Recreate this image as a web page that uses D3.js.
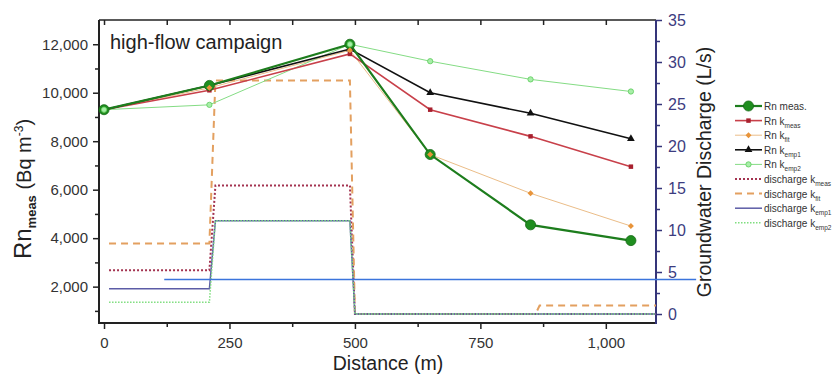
<!doctype html>
<html lang="en">
<head>
  <meta charset="utf-8">
  <title>high-flow campaign</title>
  <style>
    body { margin: 0; background: #fff; }
    svg text { font-family: "Liberation Sans", Arial, sans-serif; }
  </style>
</head>
<body>
<div id="chartDiv"></div>
<script src="https://d3js.org/d3.v7.min.js"></script>
<script>
// sampling points along the stream (m)
var distance = [0, 210, 490, 650, 850, 1050];
var rnMeas  = [9300, 10300, 12000, 7450, 4550, 3900];
var rnKmeas = [9300, 10100, 11600, 9300, 8200, 6950];
var rnKfit  = [9300, 10200, 11750, 7450, 5850, 4500];
var rnKemp1 = [9300, 10300, 11800, 10000, 9150, 8100];
var rnKemp2 = [9300, 9500, 12000, 11300, 10550, 10050];

// groundwater discharge steps (L/s)
var stepDistance   = [10, 210, 222, 490, 500, 860, 868, 1100];
var dischargeKmeas = [5.2, 5.2, 15.3, 15.3, 0, 0, 0, 0];
var dischargeKfit  = [8.4, 8.4, 27.8, 27.8, 0, 0, 1.0, 1.0];
var dischargeKemp1 = [3.0, 3.0, 11.1, 11.1, 0, 0, 0, 0];
var dischargeKemp2 = [1.4, 1.4, 11.1, 11.1, 0, 0, 0, 0];

var thresholdDistance = [120, 1180];
var thresholdValue = 4.1;

var xTicks = [0, 250, 500, 750, 1000];
var xMinor = [125, 375, 625, 875];
var leftTicks = [2000, 4000, 6000, 8000, 10000, 12000];
var leftMinor = [1000, 3000, 5000, 7000, 9000, 11000];
var rightTicks = [0, 5, 10, 15, 20, 25, 30, 35];
var rightMinor = [2.5, 7.5, 12.5, 17.5, 22.5, 27.5, 32.5];

var navy = "#35357a";

var svg = d3.select('#chartDiv')
  .append("svg")
  .attr("width", 835)
  .attr("height", 374);

var x = d3.scaleLinear().domain([-10, 1100]).range([99, 656]);
var yLeft = d3.scaleLinear().domain([500, 13000]).range([323, 20]);
var yRight = d3.scaleLinear().domain([-1.07, 35]).range([323, 20]);

function cleanAxis(g, color) {
  g.select(".domain").remove();
  g.selectAll("line").attr("stroke", color).attr("stroke-width", 1.5);
  g.selectAll("text").attr("fill", color);
}

// bottom axis
svg.append("g").attr("transform", "translate(0,323)")
  .call(d3.axisBottom(x).tickValues(xMinor).tickSize(4).tickFormat(""))
  .call(function(g) { cleanAxis(g, "#222"); });
svg.append("g").attr("transform", "translate(0,323)")
  .call(d3.axisBottom(x).tickValues(xTicks).tickSize(6).tickPadding(8).tickFormat(d3.format(",")))
  .call(function(g) { cleanAxis(g, "#222"); g.selectAll("text").attr("font-size", 15).attr("fill", "#333"); });

// top ticks
svg.append("g").attr("transform", "translate(0,20)")
  .call(d3.axisBottom(x).tickValues(xTicks.concat(xMinor)).tickSize(5).tickFormat(""))
  .call(function(g) { cleanAxis(g, "#222"); });

// left axis
svg.append("g").attr("transform", "translate(99,0)")
  .call(d3.axisLeft(yLeft).tickValues(leftMinor).tickSize(4).tickFormat(""))
  .call(function(g) { cleanAxis(g, "#222"); });
svg.append("g").attr("transform", "translate(99,0)")
  .call(d3.axisLeft(yLeft).tickValues(leftTicks).tickSize(6).tickPadding(5).tickFormat(d3.format(",")))
  .call(function(g) { cleanAxis(g, "#222"); g.selectAll("text").attr("font-size", 15).attr("fill", "#333"); });

// right axis
svg.append("g").attr("transform", "translate(656,0)")
  .call(d3.axisRight(yRight).tickValues(rightMinor).tickSize(4).tickFormat(""))
  .call(function(g) { cleanAxis(g, navy); });
svg.append("g").attr("transform", "translate(656,0)")
  .call(d3.axisRight(yRight).tickValues(rightTicks).tickSize(6).tickPadding(6))
  .call(function(g) { cleanAxis(g, navy); g.selectAll("text").attr("font-size", 16).attr("fill", "#3c3c80"); });

// frame
svg.append("line").attr("x1", 99).attr("x2", 656).attr("y1", 20).attr("y2", 20).attr("stroke", "#222").attr("stroke-width", 1.5);
svg.append("line").attr("x1", 99).attr("x2", 656).attr("y1", 323).attr("y2", 323).attr("stroke", "#222").attr("stroke-width", 2);
svg.append("line").attr("x1", 99).attr("x2", 99).attr("y1", 20).attr("y2", 324).attr("stroke", "#222").attr("stroke-width", 2);
svg.append("line").attr("x1", 656).attr("x2", 656).attr("y1", 20).attr("y2", 324).attr("stroke", navy).attr("stroke-width", 2);

// discharge lines
var dischargeSeries = [
  {sub: "meas", values: dischargeKmeas, color: "#a33350", width: 2, dash: "2,2"},
  {sub: "fit", values: dischargeKfit, color: "#e3a060", width: 2, dash: "7,5"},
  {sub: "emp1", values: dischargeKemp1, color: "#5c5ca6", width: 1.5, dash: null},
  {sub: "emp2", values: dischargeKemp2, color: "#7fde7f", width: 1.5, dash: "1.5,1.5"}
];

var stepLine = d3.line()
  .x(function(d, i) { return x(stepDistance[i]); })
  .y(function(d) { return yRight(d); });

dischargeSeries.forEach(function(s) {
  svg.append("path")
    .attr("d", stepLine(s.values))
    .attr("fill", "none")
    .attr("stroke", s.color)
    .attr("stroke-width", s.width)
    .attr("stroke-dasharray", s.dash);
});

svg.append("line")
  .attr("x1", x(thresholdDistance[0])).attr("x2", x(thresholdDistance[1]))
  .attr("y1", yRight(thresholdValue)).attr("y2", yRight(thresholdValue))
  .attr("stroke", "#3b74dc").attr("stroke-width", 1.5);

// radon series (diamond = square turned 45 deg)
var rnSeries = [
  {label: "Rn meas.", sub: "", values: rnMeas, color: "#1d7d1d", width: 2.2, symbol: d3.symbolCircle, size: 80, rot: 0, fill: "#1f8e1f", stroke: "#176a17"},
  {label: "Rn k", sub: "meas", values: rnKmeas, color: "#c8404a", width: 1.6, symbol: d3.symbolSquare, size: 20, rot: 0, fill: "#a8202e", stroke: "none"},
  {label: "Rn k", sub: "fit", values: rnKfit, color: "#ebbd88", width: 1, symbol: d3.symbolSquare, size: 18, rot: 45, fill: "#e8943a", stroke: "none"},
  {label: "Rn k", sub: "emp1", values: rnKemp1, color: "#111", width: 1.6, symbol: d3.symbolTriangle, size: 26, rot: 0, fill: "#111", stroke: "none"},
  {label: "Rn k", sub: "emp2", values: rnKemp2, color: "#84dc84", width: 1, symbol: d3.symbolCircle, size: 22, rot: 0, fill: "#a8eea8", stroke: "#5ccc5c"}
];

var rnLine = d3.line()
  .x(function(d, i) { return x(distance[i]); })
  .y(function(d) { return yLeft(d); });

var lineOrder = [2, 4, 1, 3, 0];
lineOrder.forEach(function(k) {
  var s = rnSeries[k];
  svg.append("path")
    .attr("d", rnLine(s.values))
    .attr("fill", "none")
    .attr("stroke", s.color)
    .attr("stroke-width", s.width);
});

var markerOrder = [1, 3, 0, 2, 4];
markerOrder.forEach(function(k) {
  var s = rnSeries[k];
  svg.append("g").selectAll("path")
    .data(s.values)
    .enter().append("path")
    .attr("d", d3.symbol().type(s.symbol).size(s.size))
    .attr("fill", s.fill)
    .attr("stroke", s.stroke)
    .attr("stroke-width", 0.8)
    .attr("transform", function(d, i) { return "translate(" + x(distance[i]) + "," + yLeft(d) + ") rotate(" + s.rot + ")"; });
});

// titles
svg.append("text").attr("x", 110).attr("y", 49).attr("font-size", 20).attr("fill", "#222").text("high-flow campaign");

svg.append("text").attr("x", 388).attr("y", 370).attr("text-anchor", "middle")
  .attr("font-size", 19.5).attr("fill", "#222").text("Distance (m)");

var leftTitle = svg.append("text")
  .attr("transform", "translate(31,189) rotate(-90)")
  .attr("text-anchor", "middle")
  .attr("fill", "#222");
leftTitle.append("tspan").attr("font-size", 24).text("Rn");
leftTitle.append("tspan").attr("font-size", 13).attr("font-weight", "bold").attr("dy", 5).text("meas");
leftTitle.append("tspan").attr("font-size", 20).attr("dy", -5).text(" (Bq m");
leftTitle.append("tspan").attr("font-size", 12).attr("dy", -8).text("-3");
leftTitle.append("tspan").attr("font-size", 20).attr("dy", 8).text(")");

svg.append("text")
  .attr("transform", "translate(711,172) rotate(-90)")
  .attr("text-anchor", "middle")
  .attr("font-size", 19.5)
  .attr("fill", "#222")
  .text("Groundwater Discharge (L/s)");

// legend
var legend = svg.append("g").attr("transform", "translate(735,106)");
var rowStep = 14.6;

rnSeries.forEach(function(s, i) {
  var row = legend.append("g").attr("transform", "translate(0," + (i * rowStep) + ")");
  row.append("line").attr("x1", 0).attr("x2", 27).attr("stroke", s.color).attr("stroke-width", s.width);
  row.append("path")
    .attr("d", d3.symbol().type(s.symbol).size(s.size))
    .attr("transform", "translate(13.5,0) rotate(" + s.rot + ")")
    .attr("fill", s.fill).attr("stroke", s.stroke).attr("stroke-width", 0.8);
  var t = row.append("text").attr("x", 29).attr("y", 4).attr("font-size", 10).attr("fill", "#333");
  t.append("tspan").text(s.label);
  if (s.sub) t.append("tspan").attr("font-size", 6.5).attr("dy", 3).text(s.sub);
});

dischargeSeries.forEach(function(s, i) {
  var row = legend.append("g").attr("transform", "translate(0," + ((i + 5) * rowStep) + ")");
  row.append("line").attr("x1", 0).attr("x2", 27).attr("stroke", s.color)
    .attr("stroke-width", s.width).attr("stroke-dasharray", s.dash);
  var t = row.append("text").attr("x", 29).attr("y", 4).attr("font-size", 10).attr("fill", "#333");
  t.append("tspan").text("discharge k");
  t.append("tspan").attr("font-size", 6.5).attr("dy", 3).text(s.sub);
});
</script>
</body>
</html>
